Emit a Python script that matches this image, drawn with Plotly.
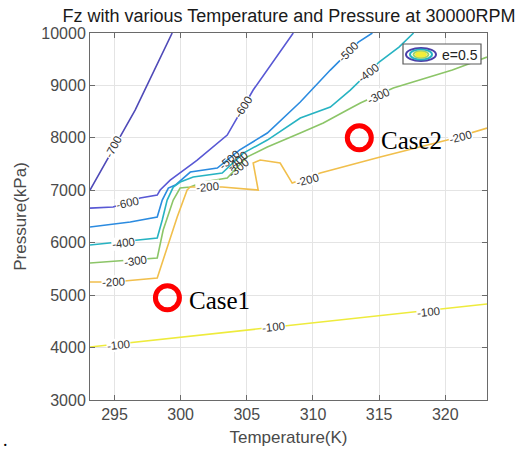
import plotly.graph_objects as go

# ---------------- data (Temperature K, Pressure kPa) ----------------
levels = [-700, -600, -500, -400, -300, -200, -100]
level_colors = ["#4f4ab8", "#5858d4", "#2b8be0", "#27b3c2", "#8cc568", "#f1bf4c", "#eeeb3c"]

c700_T = [293.15, 296.56, 299.36]
c700_P = [7005, 8530, 10000]

c600_T = [293.15, 294.9, 296.94, 298.23, 298.45, 299.21, 300.95, 301.25, 303.52, 305.48, 308.51]
c600_P = [6660, 6680, 6852, 6909, 7005, 7195, 7520, 7577, 8054, 8912, 10000]

c500_T = [293.15, 296.19, 298.23, 298.61, 299.07, 299.6, 300.73, 302.77, 304.44, 306.55, 309.04, 311.31, 313.43, 314.49]
c500_P = [6299, 6394, 6490, 6814, 7043, 7100, 7348, 7424, 7767, 8092, 8683, 9293, 9827, 10000]

c400_T = [293.15, 296.94, 298.23, 298.61, 298.98, 299.44, 299.97, 300.95, 303.14, 304.74, 306.55, 309.04, 311.31, 312.82, 315.0, 316.5, 317.6]
c400_P = [5956, 6051, 6089, 6433, 6814, 7062, 7157, 7253, 7329, 7710, 7958, 8378, 8588, 8912, 9446, 9732, 10000]

c300_T = [293.15, 298.23, 298.68, 299.44, 299.96, 300.72, 301.70, 303.52, 305.0, 306.55, 309.04, 310.78, 312.59, 313.58, 316.07, 318.11, 320.53, 323.15]
c300_P = [5613, 5708, 6242, 6814, 7043, 7062, 7157, 7234, 7634, 7825, 8092, 8282, 8530, 8664, 8950, 9102, 9293, 9541]

c200_T = [293.15, 294.9, 298.23, 298.98, 299.74, 300.49, 300.72, 303.14, 305.86, 305.48, 306.01, 307.52, 308.43, 310.55, 315.08, 320.15, 323.15]
c200_P = [5250, 5250, 5327, 5918, 6490, 7005, 7062, 7062, 7005, 7520, 7577, 7520, 7138, 7329, 7634, 7958, 8187]

c100_T = [293.15, 323.15]
c100_P = [4010, 4830]

contours = [
    (-700, c700_T, c700_P), (-600, c600_T, c600_P), (-500, c500_T, c500_P),
    (-400, c400_T, c400_P), (-300, c300_T, c300_P), (-200, c200_T, c200_P),
    (-100, c100_T, c100_P),
]

# contour labels: text, T, P, angle
label_text = ["-700", "-600", "-600", "-500", "-400", "-300", "-400", "-300", "-200", "-200", "-200", "-200", "-100", "-100", "-100"]
label_T = [294.91, 304.74, 295.96, 312.67, 314.18, 314.94, 295.67, 296.57, 294.90, 302.02, 309.57, 321.13, 295.29, 307.0, 318.72]
label_P = [7825, 8588, 6757, 9636, 9236, 8797, 5994, 5651, 5250, 7062, 7195, 8015, 4049, 4392, 4678]
label_angle = [-62, -57, -12, -45, -38, -25, -8, -8, -3, -5, -15, -15, -6, -6, -6]

# overlapping cluster labels
cluster_text = ["-500", "-400", "-300"]
cluster_T = [303.67, 304.27, 304.36]
cluster_P = [7577, 7560, 7424]

case_names = ["Case1", "Case2"]
case_T = [299.0, 313.5]
case_P = [4950, 8000]

x_ticks = [295, 300, 305, 310, 315, 320]
y_ticks = [3000, 4000, 5000, 6000, 7000, 8000, 9000, 10000]
y_tick_text = ["3000", "4000", "5000", "6000", "7000", "8000", "9000", "10000"]

# ---------------- figure ----------------
fig = go.Figure()
color_of = dict(zip(levels, level_colors))
for lev, T, P in contours:
    fig.add_trace(go.Scatter(x=T, y=P, mode="lines",
                             line=dict(color=color_of[lev], width=1.6),
                             hoverinfo="skip", showlegend=False))

fig.add_trace(go.Scatter(x=case_T, y=case_P, mode="markers",
                         marker=dict(symbol="circle-open", size=24,
                                     line=dict(color="#ff0000", width=5), color="#ff0000"),
                         hoverinfo="skip", showlegend=False))

lab_font = dict(family="Liberation Sans, Arial", size=11.5, color="#333333")
annotations = []
for t, x, y, a in zip(label_text, label_T, label_P, label_angle):
    annotations.append(dict(x=x, y=y, xref="x", yref="y", text=t, showarrow=False,
                            textangle=a, font=lab_font, bgcolor="white", borderpad=0))
for t, x, y in zip(cluster_text, cluster_T, cluster_P):
    annotations.append(dict(x=x, y=y, xref="x", yref="y", text=t, showarrow=False,
                            textangle=-40, font=lab_font))
for name, x, y in zip(case_names, case_T, case_P):
    annotations.append(dict(x=x, y=y, xref="x", yref="y", text=name, showarrow=False,
                            xanchor="left", yanchor="middle", xshift=20, yshift=-3,
                            font=dict(family="Liberation Serif, Times New Roman", size=25, color="black")))

# legend text
annotations.append(dict(x=(440 - 90) / 397, y=(400 - 55) / 367, xref="paper", yref="paper",
                        text="e=0.5", showarrow=False, xanchor="left", yanchor="middle",
                        font=dict(family="Liberation Sans, Arial", size=14, color="#222222")))
# stray period
annotations.append(dict(x=(5 - 90) / 397, y=(400 - 440) / 367, xref="paper", yref="paper",
                        text=".", showarrow=False, xanchor="center", yanchor="middle",
                        font=dict(family="Liberation Serif", size=18, color="black")))

def px_x(p):
    return (p - 90) / 397

def px_y(p):
    return (400 - p) / 367

shapes = [
    dict(type="rect", xref="paper", yref="paper", x0=px_x(403), x1=px_x(481), y0=px_y(64), y1=px_y(44),
         fillcolor="white", line=dict(color="#5a5a5a", width=1.2), layer="above"),
]
icon = [(15, 6.5, "#4b3fa8", None), (11, 5, "#27b3c2", None), (7.5, 3.3, "#9fd36a", None), (5, 2, "#f2ee3a", "#f2ee3a")]
cx, cy = 421, 54.5
for rx, ry, col, fill in icon:
    shapes.append(dict(type="circle", xref="paper", yref="paper",
                       x0=px_x(cx - rx), x1=px_x(cx + rx), y0=px_y(cy + ry), y1=px_y(cy - ry),
                       line=dict(color=col, width=2), fillcolor=fill if fill else "rgba(0,0,0,0)", layer="above"))

fig.update_layout(
    width=527, height=455,
    margin=dict(l=90, r=40, t=33, b=55),
    paper_bgcolor="white", plot_bgcolor="white",
    title=dict(text="Fz with various Temperature and Pressure at 30000RPM",
               x=289 / 527, xanchor="center", y=1 - 16 / 455, yanchor="middle",
               font=dict(family="Liberation Sans, Arial", size=18, color="#1a1a1a")),
    xaxis=dict(range=[293.15, 323.15], tickvals=x_ticks, ticks="inside", ticklen=5,
               tickcolor="#6a6a6a", showline=True, linecolor="#6a6a6a", linewidth=1, mirror="ticks",
               showgrid=True, gridcolor="#e4e4e4", zeroline=False,
               tickfont=dict(family="Liberation Sans, Arial", size=16, color="#4a4a4a"),
               title=dict(text="Temperature(K)", standoff=8,
                          font=dict(family="Liberation Sans, Arial", size=17, color="#4a4a4a"))),
    yaxis=dict(range=[3000, 10000], tickvals=y_ticks, ticktext=y_tick_text, ticks="inside", ticklen=5,
               tickcolor="#6a6a6a", showline=True, linecolor="#6a6a6a", linewidth=1, mirror="ticks",
               showgrid=True, gridcolor="#e4e4e4", zeroline=False,
               tickfont=dict(family="Liberation Sans, Arial", size=16, color="#4a4a4a"),
               title=dict(text="Pressure(kPa)", standoff=10,
                          font=dict(family="Liberation Sans, Arial", size=17, color="#4a4a4a"))),
    annotations=annotations,
    shapes=shapes,
)

fig.write_html("out.html")
